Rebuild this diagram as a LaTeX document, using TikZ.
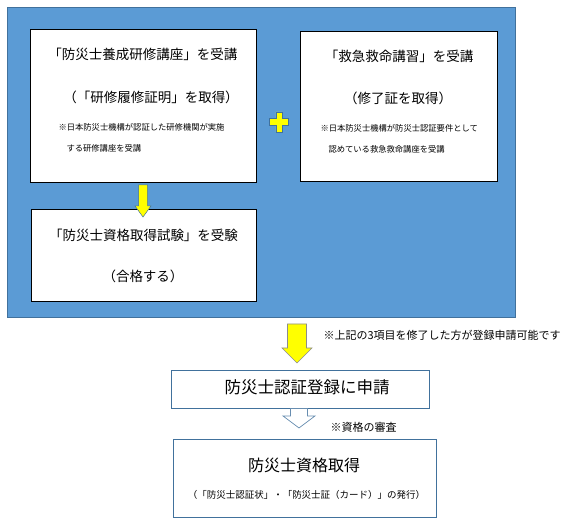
\documentclass[tikz,border=0pt]{standalone}
\usepackage{fontspec}
\newfontfamily\jp{Noto Sans CJK JP}
\definecolor{bgblue}{HTML}{5B9BD5}
\definecolor{edgeblue}{HTML}{41719C}
\definecolor{markyellow}{HTML}{FFFF00}
\tikzset{
  stepbox/.style={draw=black, fill=white, line width=0.9pt, inner sep=0pt},
  regbox/.style={draw=edgeblue, fill=white, line width=0.9pt, inner sep=0pt},
  bigtxt/.style={font=\jp\fontsize{13.5}{16}\selectfont, text=black},
  smalltxt/.style={font=\jp\fontsize{8.3}{10}\selectfont, anchor=west, text=black},
  notetxt/.style={font=\jp\fontsize{11}{13}\selectfont, anchor=west, text=black},
}
\begin{document}
\begin{tikzpicture}[x=1pt, y=-1pt]
  \useasboundingbox (0,0) rectangle (574,526);
  % Blauer Hintergrund fuer die drei Voraussetzungen
  \fill[bgblue, draw=edgeblue, line width=0.8pt] (7,7) rectangle (515,317);
  \node[stepbox, minimum width=226, minimum height=153] (kurs) at (143,105.5) {};
  \node[stepbox, minimum width=197, minimum height=150] (kyu)  at (398.5,106) {};
  \node[stepbox, minimum width=225, minimum height=92]  (exam) at (143.5,255) {};
  % Texte im Kurs-Kasten
  \node[bigtxt] (kurs1) at (143,54) {「防災士養成研修講座」を受講};
  \node[bigtxt] (kurs2) at (151,97) {（「研修履修証明」を取得）};
  \node[smalltxt] (kurs3) at (55,127) {※日本防災士機構が認証した研修機関が実施};
  \node[smalltxt] (kurs4) at (63,148) {する研修講座を受講};
  % Texte im Erste-Hilfe-Kasten
  \node[bigtxt] (kyu1) at (399,56) {「救急救命講習」を受講};
  \node[bigtxt] (kyu2) at (398,98) {（修了証を取得）};
  \node[smalltxt] (kyu3) at (317,128) {※日本防災士機構が防災士認証要件として};
  \node[smalltxt] (kyu4) at (325,149) {認めている救急救命講座を受講};
  % Pruefung
  \node[bigtxt] (exam1) at (143.5,235) {「防災士資格取得試験」を受験};
  \node[bigtxt] (exam2) at (143,276) {（合格する）};
  % gelbes Plus
  \fill[markyellow, draw=edgeblue, line width=0.6pt]
    (275.8,112) -- (282.2,112) -- (282.2,118.8) -- (288.5,118.8) -- (288.5,125.2)
    -- (282.2,125.2) -- (282.2,132) -- (275.8,132) -- (275.8,125.2) -- (269.5,125.2)
    -- (269.5,118.8) -- (275.8,118.8) -- cycle;
  % gelber Pfeil Kurs -> Pruefung
  \fill[markyellow, draw=edgeblue, line width=0.5pt]
    (138.5,185) -- (147.5,185) -- (147.5,206) -- (151,206) -- (143,217)
    -- (135,206) -- (138.5,206) -- cycle;
  % Registrierung
  \node[regbox, minimum width=258, minimum height=38] (apply) at (300,389) {};
  \node[regbox, minimum width=263, minimum height=78] (done)  at (304.5,478) {};
  \node[font=\jp\fontsize{16.5}{19}\selectfont, text=black] (apply1) at (307,387) {防災士認証登録に申請};
  \node[font=\jp\fontsize{16}{19}\selectfont, text=black] (done1) at (304,465) {防災士資格取得};
  \node[font=\jp\fontsize{9.5}{11}\selectfont, text=black] (done2) at (306.5,495) {（「防災士認証状」・「防災士証（カード）」の発行）};
  % grosser gelber Pfeil
  \fill[markyellow, draw=black!45, line width=0.6pt]
    (287.5,324) -- (306.5,324) -- (306.5,348) -- (312,348) -- (297,363)
    -- (282,348) -- (287.5,348) -- cycle;
  \node[notetxt] (note1) at (320,335) {※上記の3項目を修了した方が登録申請可能です};
  % hohler Pfeil
  \filldraw[fill=white, draw=edgeblue!80, line width=0.7pt]
    (290.5,408.5) -- (307.5,408.5) -- (307.5,416) -- (315,416) -- (299,428)
    -- (283,416) -- (290.5,416) -- cycle;
  \node[notetxt] (note2) at (327,427) {※資格の審査};
\end{tikzpicture}
\end{document}
